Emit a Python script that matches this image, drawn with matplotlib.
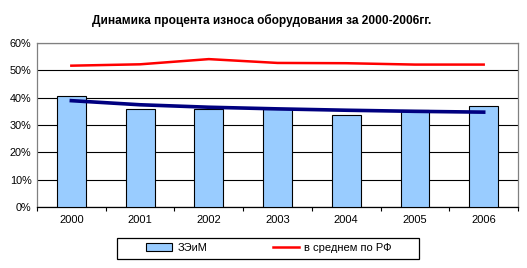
import numpy as np
import matplotlib
matplotlib.use('Agg')
import matplotlib.pyplot as plt
from matplotlib.patches import Rectangle
from matplotlib.ticker import FixedLocator, NullFormatter

plt.rcParams['font.family'] = ['Liberation Sans', 'DejaVu Sans']

years = ['2000', '2001', '2002', '2003', '2004', '2005', '2006']
zeim = [40.5, 35.8, 36.0, 35.8, 33.6, 35.5, 36.8]
rf_avg = [51.7, 52.2, 54.1, 52.7, 52.6, 52.1, 52.1]
trend = [38.9, 37.4, 36.5, 35.9, 35.4, 35.0, 34.7]

fig = plt.figure(figsize=(5.27, 2.68), dpi=100)
ax = fig.add_axes([0.0702, 0.2276, 0.9128, 0.612])

x = np.arange(len(years))
bars = ax.bar(x, zeim, width=0.42, color='#99CCFF', edgecolor='black', linewidth=0.8,
              label='ЗЭиМ', zorder=3)
line, = ax.plot(x, rf_avg, color='#FF0000', linewidth=1.8, label='в среднем по РФ', zorder=4)
ax.plot(x, trend, color='#000080', linewidth=2.6, zorder=4)

ax.set_xlim(-0.5, 6.5)
ax.set_ylim(0, 60)
ax.set_yticks(range(0, 61, 10))
ax.set_yticklabels([f'{v}%' for v in range(0, 61, 10)], fontsize=7.8)
ax.yaxis.grid(True, color='black', linewidth=0.8, zorder=0)
ax.tick_params(axis='y', length=0, pad=4)

ax.xaxis.set_major_locator(FixedLocator(np.arange(-0.5, 7, 1)))
ax.xaxis.set_major_formatter(NullFormatter())
ax.xaxis.set_minor_locator(FixedLocator(x))
ax.set_xticklabels(years, minor=True, fontsize=8)
ax.tick_params(axis='x', which='major', length=3, color='black', direction='out')
ax.tick_params(axis='x', which='minor', length=0, pad=6)

for side in ['top', 'right', 'left']:
    ax.spines[side].set_color('#808080')
    ax.spines[side].set_linewidth(0.9)
ax.spines['bottom'].set_color('black')
ax.spines['bottom'].set_linewidth(0.9)

fig.text(0.497, 0.925, 'Динамика процента износа оборудования за 2000-2006гг.',
         ha='center', va='center', fontsize=8.6, fontweight='bold')

# legend box like Excel: frame drawn separately, entries centred inside
fig.patches.append(Rectangle((117 / 527, 1 - 259 / 268), 302 / 527, 21 / 268,
                             transform=fig.transFigure, fill=False,
                             edgecolor='black', linewidth=0.9))
fig.legend(handles=[bars, line], loc='center', bbox_to_anchor=(0.51, 0.075),
           ncol=2, fontsize=8, frameon=False, columnspacing=5.9,
           handlelength=2.35, handleheight=0.6, handletextpad=0.45)

fig.savefig('out.png', dpi=100)
